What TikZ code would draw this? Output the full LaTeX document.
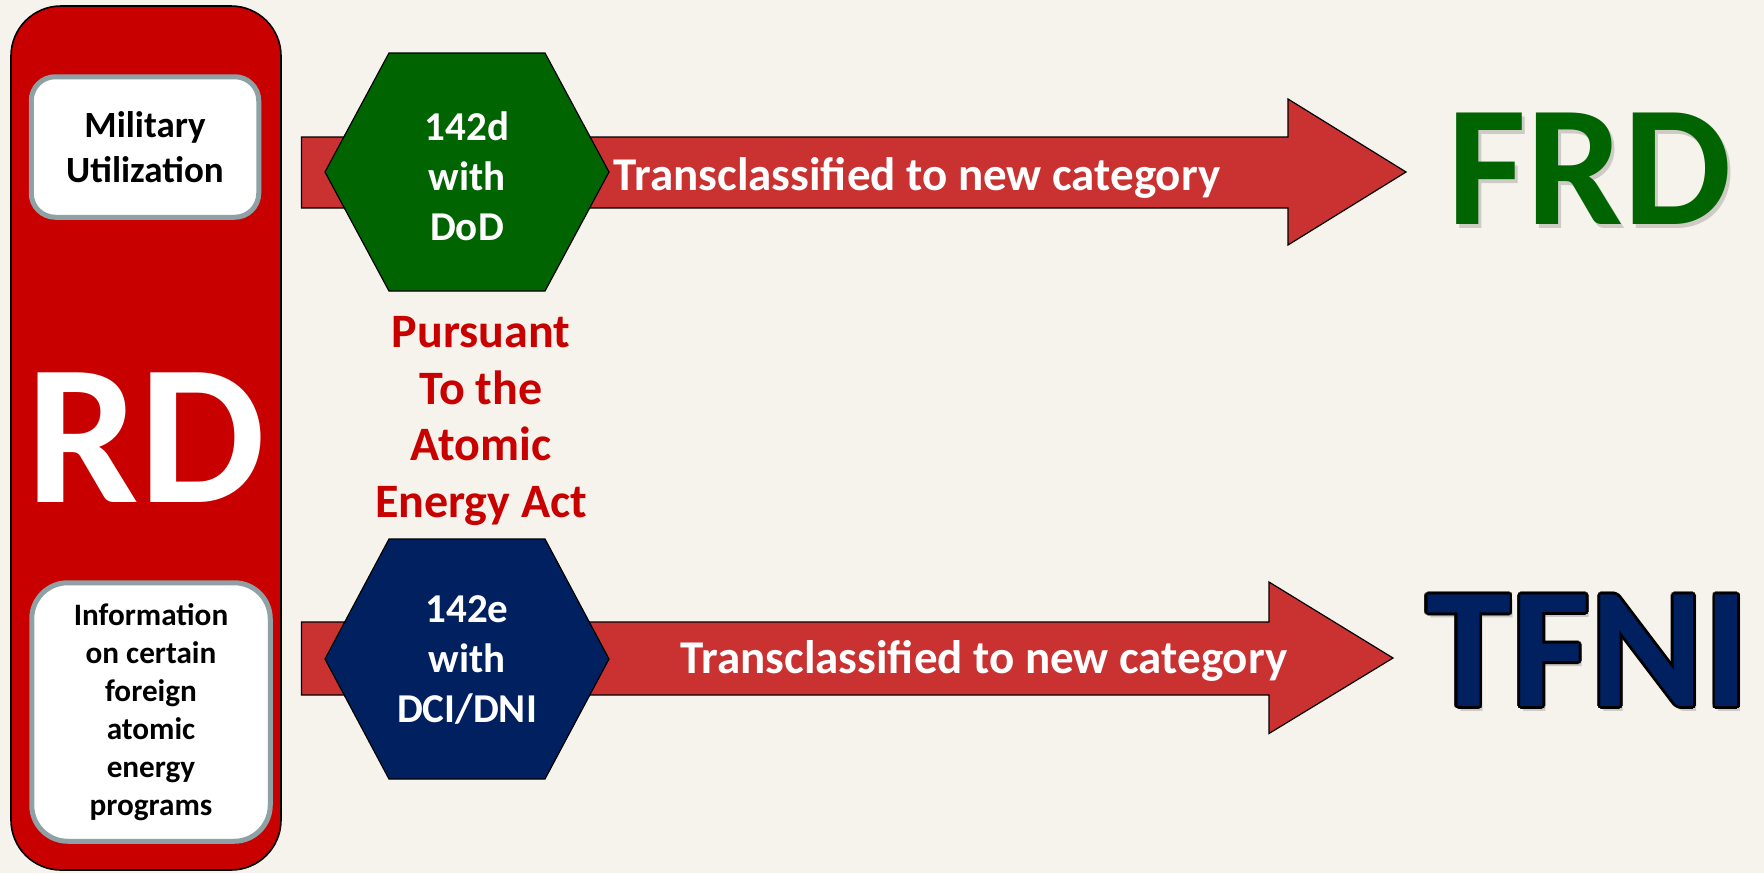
\documentclass[tikz,border=0pt]{standalone}
\usepackage{fontspec}
\setmainfont{Carlito}
\usepackage{contour}
\definecolor{bgcream}{HTML}{F6F3EC}
\definecolor{rdred}{HTML}{C80000}
\definecolor{arrowred}{HTML}{CA3232}
\definecolor{dodgreen}{HTML}{006400}
\definecolor{dninavy}{HTML}{002060}
\definecolor{boxgray}{HTML}{8EA2A6}
\contourlength{1.3pt}
\begin{document}
\begin{tikzpicture}[x=0.5pt,y=-0.5pt,
	srcbox/.style={draw=boxgray,line width=2.5pt,fill=white,align=center,inner sep=0pt},
	bigarrow/.style={draw=black,line width=0.6pt,fill=arrowred},
	hexfill/.style={draw=black,line width=0.6pt},
	hextext/.style={text=white,align=center,font=\bfseries\fontsize{20.5}{25}\selectfont},
	arrowtext/.style={text=white,font=\bfseries\fontsize{23.5}{28}\selectfont},
	bigword/.style={font=\bfseries\fontsize{86}{86}\selectfont,inner sep=0pt},
	softshadow/.style={bigword,text=black,opacity=0.16}]
	\useasboundingbox (0,0) rectangle (1764,873);
	\fill[bgcream] (0,0) rectangle (1764,873);
	% left column: RD with its two sources
	\node[draw=black,line width=0.8pt,fill=rdred,rounded corners=25pt,minimum width=135pt,minimum height=432pt,text=white,font=\bfseries\fontsize{100}{100}\selectfont] (rd) at (146,438) {RD};
	\node[srcbox,rounded corners=12pt,minimum width=113.75pt,minimum height=70.25pt,font=\bfseries\fontsize{18.5}{22.5}\selectfont] (mil) at (145,147) {Military\\Utilization};
	\node[srcbox,rounded corners=18pt,minimum width=119.25pt,minimum height=129.25pt,font=\bfseries\fontsize{15.6}{19}\selectfont] (info) at (151,712) {Information\\on certain\\foreign\\atomic\\energy\\programs};
	% the two arrows
	\draw[bigarrow] (301.5,137) -- (1288,137) -- (1288,99) -- (1406,172) -- (1288,245) -- (1288,208) -- (301.5,208) -- cycle;
	\draw[bigarrow] (301.5,622) -- (1269,622) -- (1269,582) -- (1393,658) -- (1269,733.5) -- (1269,695) -- (301.5,695) -- cycle;
	\node[arrowtext] (frdtxt) at (917,178) {Transclassified to new category};
	\node[arrowtext] (tfnitxt) at (984,661) {Transclassified to new category};
	% hexagons
	\draw[hexfill,fill=dodgreen,shift={(467,172)}] (-142,0) -- (-78,-119) -- (78,-119) -- (142,0) -- (78,119) -- (-78,119) -- cycle;
	\draw[hexfill,fill=dninavy,shift={(467,659)}] (-142,0) -- (-78,-120) -- (78,-120) -- (142,0) -- (78,120) -- (-78,120) -- cycle;
	\node[hextext] (dod) at (467,176) {142d\\with\\DoD};
	\node[hextext] (dni) at (467,660) {142e\\with\\DCI/DNI};
	\node[text=rdred,align=center,font=\bfseries\fontsize{24}{28.4}\selectfont] (aea) at (481,421) {Pursuant\\To the\\Atomic\\Energy Act};
	% new categories
	\node[softshadow] (frdshadow) at (1593,173) {FRD};
	\node[bigword,text=dodgreen] (frd) at (1590,169) {FRD};
	\node[softshadow] (tfnishadow) at (1591,656) {TFNI};
	\node[bigword,text=dninavy] (tfni) at (1588,652) {\contour{black}{TFNI}};
\end{tikzpicture}
\end{document}
